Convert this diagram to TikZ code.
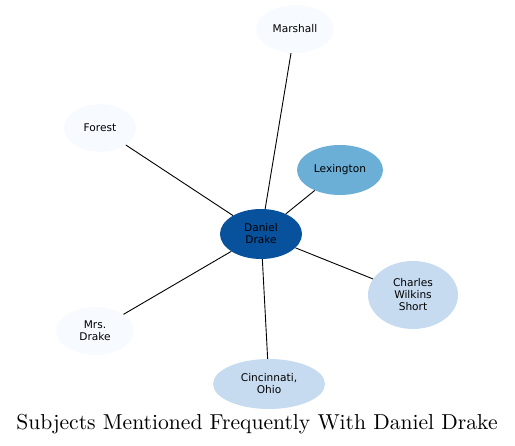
\documentclass[tikz,border=0pt]{standalone}
\usepackage{fontspec}
\newfontfamily\labelfont{DejaVu Sans}
\newfontfamily\titlefont{lmroman10-regular}[Extension=.otf]
\usetikzlibrary{shapes.geometric}
\usetikzlibrary{positioning}

\definecolor{palest}{HTML}{F7FBFF}
\definecolor{pale}{HTML}{C6DBEF}
\definecolor{mid}{HTML}{6BAED6}
\definecolor{deep}{HTML}{08519C}

\tikzset{
  subj/.style={ellipse, draw=none, inner sep=0pt, align=center,
    font=\labelfont\fontsize{10.6}{12}\selectfont},
  link/.style={black, line width=0.9pt}
}

\begin{document}
\begin{tikzpicture}[x=1pt, y=-1pt]
        \useasboundingbox (0,0) rectangle (515,446);
        \node [subj, fill=deep, minimum width=82, minimum height=50] (dd) at (261,234) {Daniel\\Drake};
        \node [subj, fill=palest, minimum width=78, minimum height=48] (marshall) at (295,29) {Marshall};
        \node [subj, fill=palest, minimum width=72, minimum height=48] (forest) at (100,128) {Forest};
        \node [subj, fill=mid, minimum width=86, minimum height=50] (lex) at (340,170) {Lexington};
        \node [subj, fill=pale, minimum width=90, minimum height=68] (short) at (413,295) {Charles\\Wilkins\\Short};
        \node [subj, fill=palest, minimum width=78, minimum height=48] (mrs) at (95,331) {Mrs.\\Drake};
        \node [subj, fill=pale, minimum width=112, minimum height=50] (cinc) at (269,384) {Cincinnati,\\Ohio};
        \draw [link] (dd) -- (marshall);
        \draw [link] (dd) -- (forest);
        \draw [link] (dd) -- (lex);
        \draw [link] (dd) -- (short);
        \draw [link] (dd) -- (mrs);
        \draw [link] (dd) -- (cinc);
        \node [font=\titlefont\fontsize{21.6}{25}\selectfont] (title) at (257,424) {Subjects Mentioned Frequently With Daniel Drake};
      \end{tikzpicture}
\end{document}
